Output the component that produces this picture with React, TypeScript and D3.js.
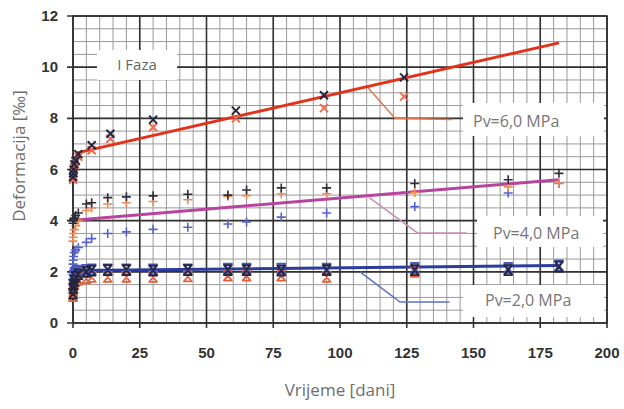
import React from "react";
import * as d3 from "d3";

const xTicks = [0, 25, 50, 75, 100, 125, 150, 175, 200];
const yTicks = [0, 2, 4, 6, 8, 10, 12];

const days6 = [0, 0.1, 0.25, 0.5, 1, 2, 7, 14, 30, 61, 94, 124];
const def6Black = [5.7, 5.85, 6.0, 6.2, 6.35, 6.6, 6.95, 7.4, 7.95, 8.3, 8.9, 9.6];
const def6Red = [5.6, 5.75, 5.9, 6.1, 6.3, 6.5, 6.75, 7.2, 7.65, 8.0, 8.4, 8.85];

const days = [0, 0.1, 0.25, 0.5, 1, 2, 5, 7, 13, 20, 30, 43, 58, 65, 78, 95, 128, 163, 182];
const def4Black = [3.9, 4.0, 4.05, 4.1, 4.2, 4.3, 4.65, 4.7, 4.9, 4.93, 4.97, 5.03, 5.0, 5.2, 5.28, 5.28, 5.45, 5.6, 5.85];
const def4Orange = [3.2, 3.35, 3.5, 3.65, 3.8, 4.0, 4.4, 4.5, 4.65, 4.7, 4.75, 4.82, 4.95, 4.98, 5.05, 5.05, 5.1, 5.32, 5.47];
const def4Blue = [2.3, 2.45, 2.6, 2.75, 2.85, 2.95, 3.15, 3.3, 3.5, 3.56, 3.66, 3.74, 3.87, 3.95, 4.14, 4.3, 4.55, 5.08, 5.45];
const def2Black = [1.15, 1.35, 1.5, 1.65, 1.8, 1.9, 2.0, 2.05, 2.07, 2.07, 2.05, 2.07, 2.07, 2.07, 2.05, 2.07, 2.07, 2.07, 2.2];
const def2Red = [1.05, 1.25, 1.4, 1.55, 1.65, 1.7, 1.75, 1.8, 1.8, 1.8, 1.8, 1.82, 1.85, 1.85, 1.85, 1.8, 2.0];
const def2Blue = [1.5, 1.7, 1.85, 1.95, 2.0, 2.05, 2.08, 2.1, 2.1, 2.1, 2.1, 2.1, 2.12, 2.12, 2.12, 2.12, 2.15, 2.15, 2.25];

const trendDays = [1.5, 182];
const trend6 = [6.65, 10.95];
const trend4 = [4.03, 5.6];
const trend2 = [2.05, 2.25];

const lead6: [number, number][] = [[110.5, 9.2], [120.6, 8.0], [142, 7.95]];
const lead4: [number, number][] = [[111, 4.9], [129, 3.52], [147.5, 3.52]];
const lead2: [number, number][] = [[107.5, 2.0], [122.5, 0.82], [141, 0.82]];

const W = 624;
const H = 409;
const x = d3.scaleLinear().domain([0, 200]).range([73, 607]);
const y = d3.scaleLinear().domain([0, 12]).range([323, 16]);

const minorX = d3.range(0, 201, 5);
const minorY = d3.range(0, 12.01, 0.5);

const lineGen = d3.line<[number, number]>().x((d) => x(d[0])).y((d) => y(d[1]));

function Cross({ cx, cy, color, s = 4, w = 2 }: any) {
  return (
    <path d={`M${cx - s},${cy - s}L${cx + s},${cy + s}M${cx - s},${cy + s}L${cx + s},${cy - s}`} stroke={color} strokeWidth={w} fill="none" />
  );
}
function Plus({ cx, cy, color, s = 4.5, w = 1.6 }: any) {
  return (
    <path d={`M${cx - s},${cy}L${cx + s},${cy}M${cx},${cy - s}L${cx},${cy + s}`} stroke={color} strokeWidth={w} fill="none" />
  );
}
function Hour({ cx, cy, color, s = 4, h = 5, w = 1.8 }: any) {
  return (
    <path d={`M${cx - s},${cy - h}L${cx + s},${cy - h}L${cx - s},${cy + h}L${cx + s},${cy + h}Z`} stroke={color} strokeWidth={w} fill="none" strokeLinejoin="round" />
  );
}

const tickFont = "'Liberation Sans', Arial, sans-serif";
const labFont = "'Open Sans', 'DejaVu Sans', sans-serif";

export default function App() {
  const zip = (xs: number[], ys: number[]) => ys.map((v, i) => [xs[i], v] as [number, number]);
  return (
    <svg width={W} height={H} style={{ position: "absolute", left: 0, top: 0, background: "#fff" }}>
      <rect width={W} height={H} fill="#fff" />
      {/* minor grid */}
      {minorX.map((v) => (
        <line key={"mx" + v} x1={x(v)} x2={x(v)} y1={y(0)} y2={y(12)} stroke="#9a9a9a" strokeWidth={1} />
      ))}
      {minorY.map((v) => (
        <line key={"my" + v} x1={x(0)} x2={x(200)} y1={y(v)} y2={y(v)} stroke="#9a9a9a" strokeWidth={1} />
      ))}
      {/* major grid */}
      {xTicks.map((v) => (
        <line key={"Mx" + v} x1={x(v)} x2={x(v)} y1={y(0) + 5} y2={y(12)} stroke="#333" strokeWidth={1.6} />
      ))}
      {yTicks.map((v) => (
        <line key={"My" + v} x1={x(0) - 6} x2={x(200)} y1={y(v)} y2={y(v)} stroke="#333" strokeWidth={1.6} />
      ))}
      <rect x={x(0)} y={y(12)} width={x(200) - x(0)} height={y(0) - y(12)} fill="none" stroke="#333" strokeWidth={1.6} />

      {/* label boxes */}
      <rect x={97} y={50} width={80} height={30} fill="#fff" />
      <rect x={463} y={103} width={141} height={33} fill="#fff" />
      <rect x={477} y={216} width={126} height={31} fill="#fff" />
      <rect x={463} y={285} width={141} height={32} fill="#fff" />

      {/* leaders */}
      <path d={lineGen(lead6) || ""} stroke="#e07850" strokeWidth={1.5} fill="none" />
      <path d={lineGen(lead4) || ""} stroke="#c890b0" strokeWidth={1.5} fill="none" />
      <path d={lineGen(lead2) || ""} stroke="#6070c0" strokeWidth={1.5} fill="none" />

      {/* trend lines */}
      <path d={lineGen(zip(trendDays, trend6)) || ""} stroke="#e3321c" strokeWidth={3} fill="none" />
      <path d={lineGen(zip(trendDays, trend4)) || ""} stroke="#b8449e" strokeWidth={3} fill="none" />
      <path d={lineGen(zip(trendDays, trend2)) || ""} stroke="#2c3c9c" strokeWidth={3} fill="none" />

      {/* 6 MPa */}
      {def6Red.map((v, i) => <Cross key={"6r" + i} cx={x(days6[i])} cy={y(v)} color="#ef6b4c" />)}
      {def6Black.map((v, i) => <Cross key={"6b" + i} cx={x(days6[i])} cy={y(v)} color="#262640" />)}
      {/* 4 MPa */}
      {def4Blue.map((v, i) => <Plus key={"4u" + i} cx={x(days[i])} cy={y(v)} color="#5464cc" />)}
      {def4Orange.map((v, i) => <Plus key={"4o" + i} cx={x(days[i])} cy={y(v)} color="#f08a55" />)}
      {def4Black.map((v, i) => <Plus key={"4b" + i} cx={x(days[i])} cy={y(v)} color="#2e2e3a" />)}
      {/* 2 MPa */}
      {def2Red.map((v, i) => <Hour key={"2r" + i} cx={x(days[i])} cy={y(v)} color="#e4603c" />)}
      {def2Blue.map((v, i) => <Hour key={"2u" + i} cx={x(days[i])} cy={y(v)} color="#4a58c0" />)}
      {def2Black.map((v, i) => <Hour key={"2b" + i} cx={x(days[i])} cy={y(v)} color="#26263a" />)}

      {/* tick labels */}
      {xTicks.map((v) => (
        <text key={"xl" + v} x={x(v)} y={358} textAnchor="middle" fontFamily={tickFont} fontWeight="bold" fontSize={15} fill="#333">{v}</text>
      ))}
      {yTicks.map((v) => (
        <text key={"yl" + v} x={58} y={y(v) + 5} textAnchor="end" fontFamily={tickFont} fontWeight="bold" fontSize={15} fill="#333">{v}</text>
      ))}

      {/* annotations */}
      <text x={137} y={70} textAnchor="middle" fontFamily={labFont} fontSize={15} fill="#666">I Faza</text>
      <text x={473} y={127} fontFamily={labFont} fontSize={16} fill="#777">Pv=6,0 MPa</text>
      <text x={493} y={239} fontFamily={labFont} fontSize={16} fill="#777">Pv=4,0 MPa</text>
      <text x={485} y={306} fontFamily={labFont} fontSize={16} fill="#777">Pv=2,0 MPa</text>

      {/* axis titles */}
      <text x={340} y={396} textAnchor="middle" fontFamily={labFont} fontSize={17} fill="#6e6e6e">Vrijeme [dani]</text>
      <text transform="translate(25,156) rotate(-90)" textAnchor="middle" fontFamily={labFont} fontSize={17} fill="#6e6e6e">Deformacija [‰]</text>
    </svg>
  );
}
